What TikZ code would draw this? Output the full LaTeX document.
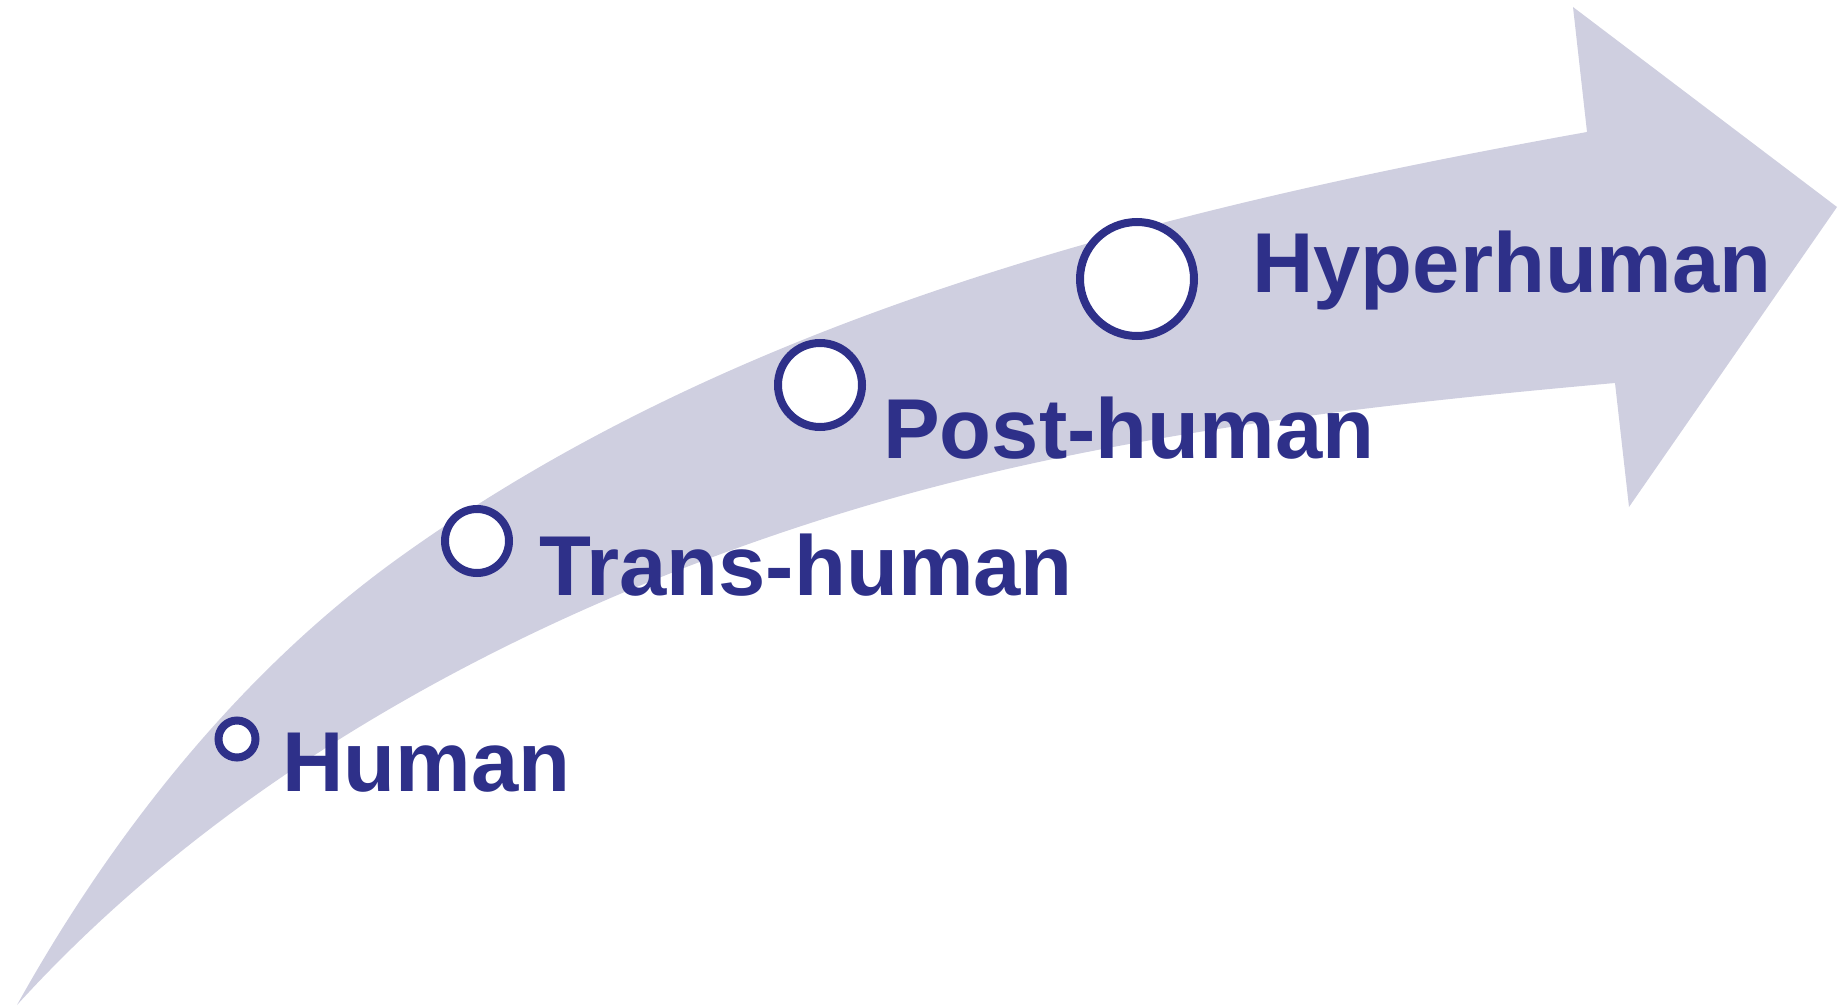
\documentclass[tikz,border=0pt]{standalone}
\usepackage{fontspec}
\setmainfont{Liberation Sans}
\definecolor{bandfill}{RGB}{207,207,224}
\definecolor{inkblue}{RGB}{46,48,137}
\begin{document}
\begin{tikzpicture}[x=1pt,y=-1pt,
  stage/.style={circle,draw=inkblue,line width=8pt,fill=white,inner sep=0pt},
  label/.style={anchor=base west,inner sep=0pt,text=inkblue,font=\fontsize{85pt}{85pt}\selectfont\bfseries}]
\useasboundingbox (0,0) rectangle (1840,1006);
% curved arrow
\coordinate (tail) at (17,1005);
\coordinate (up1) at (400,557);
\coordinate (upend) at (1587,132);
\coordinate (notchT) at (1573,7);
\coordinate (tip) at (1837,207);
\coordinate (notchB) at (1629,507);
\coordinate (lowend) at (1615,383);
\coordinate (low1) at (820,520);
\fill[bandfill] (tail)
  .. controls (112,834) and (241,671) .. (up1)
  .. controls (741,312) and (1174,206) .. (upend)
  -- (notchT) -- (tip) -- (notchB) -- (lowend)
  .. controls (1347,407) and (1076,438) .. (low1)
  .. controls (522,615) and (228,773) .. (tail)
  -- cycle;
% stages
\node[stage,minimum size=37pt] (c1) at (237,739) {};
\node[stage,minimum size=64pt] (c2) at (477,541) {};
\node[stage,minimum size=84pt] (c3) at (820,385) {};
\node[stage,minimum size=114pt] (c4) at (1137,279) {};
\node[label] (t1) at (282,791) {Human};
\node[label] (t2) at (539,595) {Trans-human};
\node[label] (t3) at (883,458) {Post-human};
\node[label] (t4) at (1252,292) {Hyperhuman};
\end{tikzpicture}
\end{document}
